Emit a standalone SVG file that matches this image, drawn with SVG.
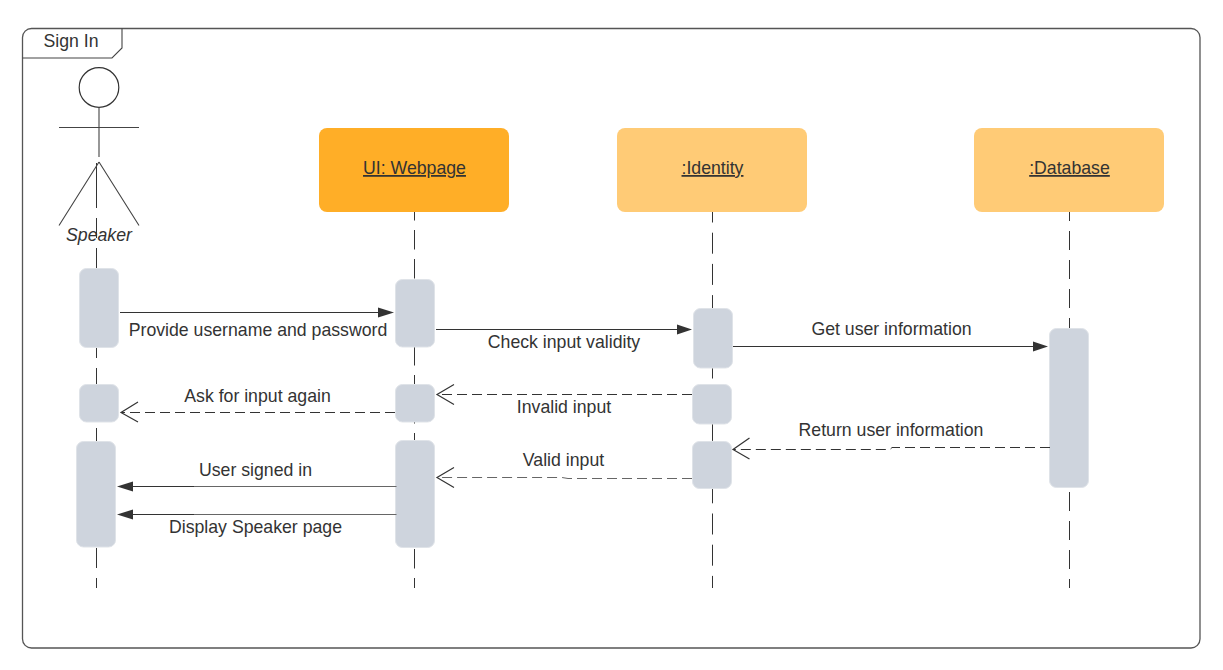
<svg xmlns="http://www.w3.org/2000/svg" width="1223" height="670" viewBox="0 0 1223 670">
<style>
text{font-family:"Liberation Sans",Arial,sans-serif;font-size:17.7px;fill:#333}
.m{text-anchor:middle}
.u{text-decoration:underline}
.life{stroke:#333;stroke-width:1;fill:none}
.a{fill:#ced4dd;stroke:#dfe3e8;stroke-width:1}
.c{stroke:#333;stroke-width:1;fill:none}
.g{stroke:#666;stroke-width:1;fill:none}
.d{stroke:#333;stroke-width:1;fill:none;stroke-dasharray:10 5}
.dg{stroke:#666;stroke-width:1;fill:none;stroke-dasharray:10 5}
.o{stroke:#333;stroke-width:1.200;fill:none}
.f{fill:#333}
.l{stroke:#444;stroke-width:1.100;fill:none}
</style>
<rect width="1223" height="670" fill="#fff"/>
<g id="frame">
<rect x="22.500" y="28.500" width="1177.500" height="619.500" rx="9" fill="#fff" stroke="#555" stroke-width="1.300"/>
<path class="l" d="M22.500 58H112L122 48V28.500"/>
<text x="71" y="47" class="m">Sign In</text>
</g>
<g id="lifelines">
<path class="life" d="M96.500 163V208"/>
<path class="life" d="M96.500 218V588" stroke-dasharray="20 10"/>
<path class="life" d="M414.500 212V588" stroke-dasharray="19.500 9.500" stroke-dashoffset="11"/>
<path class="life" d="M712.500 212V588" stroke-dasharray="21 10.200" stroke-dashoffset="10.500"/>
<path class="life" d="M1069.500 212V588" stroke-dasharray="19 10" stroke-dashoffset="10"/>
</g>
<g id="actor-speaker">
<circle cx="99" cy="87.500" r="19.800" fill="#fff" stroke="#333" stroke-width="1.200"/>
<path class="l" d="M99 107.500V157M59 127.500H139M99 162L59 225.500M99 162L139 225.500"/>
<text x="99" y="241" class="m" font-style="italic">Speaker</text>
</g>
<g id="ui-webpage">
<rect x="319" y="128" width="190" height="84" rx="8" fill="#ffae27"/>
<text x="414.500" y="174" class="m u">UI: Webpage</text>
</g>
<g id="identity">
<rect x="617" y="128" width="190" height="84" rx="8" fill="#ffcb76"/>
<text x="712.500" y="174" class="m u">:Identity</text>
</g>
<g id="database">
<rect x="974" y="128" width="190" height="84" rx="8" fill="#ffcb76"/>
<text x="1069.500" y="174" class="m u">:Database</text>
</g>
<g id="activations">
<rect class="a" x="79.500" y="268.500" width="39" height="79" rx="7"/>
<rect class="a" x="79.500" y="384.500" width="39" height="37.500" rx="7"/>
<rect class="a" x="76.500" y="441.500" width="39" height="105.500" rx="7"/>
<rect class="a" x="395.500" y="279.500" width="39" height="67.500" rx="7"/>
<rect class="a" x="395.500" y="384.500" width="39" height="37.500" rx="7"/>
<rect class="a" x="395.500" y="440.500" width="39" height="107" rx="7"/>
<rect class="a" x="693.500" y="308.500" width="39" height="59.500" rx="7"/>
<rect class="a" x="692.500" y="384.500" width="39" height="39.500" rx="7"/>
<rect class="a" x="692.500" y="441.500" width="39" height="47" rx="7"/>
<rect class="a" x="1049.500" y="328.500" width="39" height="159" rx="7"/>
</g>
<g id="connectors">
<path class="c" d="M120 312.500H380"/><path class="f" d="M394 312.500L378 307.500V317.500Z"/>
<path class="c" d="M436 329.500H678"/><path class="f" d="M692 329.500L677 324.500V334.500Z"/>
<path class="c" d="M733 346.500H1034"/><path class="f" d="M1048 346.500L1033 341.500V351.500Z"/>
<path class="d" d="M692 394.500H437"/><path class="o" d="M454 384.500L437 394.500L454 404.500"/>
<path class="d" d="M395 412.500H121"/><path class="o" d="M138 402L121 412.500L138 422"/>
<path class="d" d="M1050 447.500H892L890 449.500H734"/><path class="o" d="M749.500 438L733 449.500L749.500 459"/>
<path class="dg" d="M692 478.500H568L562 477.500H437"/><path class="o" d="M454 467.500L437 477.500L454 487.500"/>
<path class="g" d="M396.500 486.500H194"/><path class="c" d="M194 486.500H130"/><path class="f" d="M117 486.500L133 481.500V491.500Z"/>
<path class="g" d="M396.500 514.500H194"/><path class="c" d="M194 514.500H130"/><path class="f" d="M117 514.500L133 509.500V519.500Z"/>
</g>
<g id="labels">
<text x="258" y="335.500" class="m">Provide username and password</text>
<text x="564" y="347.500" class="m">Check input validity</text>
<text x="891.500" y="334.500" class="m">Get user information</text>
<text x="564" y="412.500" class="m">Invalid input</text>
<text x="257.500" y="401.500" class="m">Ask for input again</text>
<text x="891" y="435.500" class="m">Return user information</text>
<text x="563.500" y="465.500" class="m">Valid input</text>
<text x="255.500" y="475.500" class="m">User signed in</text>
<text x="255.500" y="532.500" class="m">Display Speaker page</text>
</g>
</svg>
